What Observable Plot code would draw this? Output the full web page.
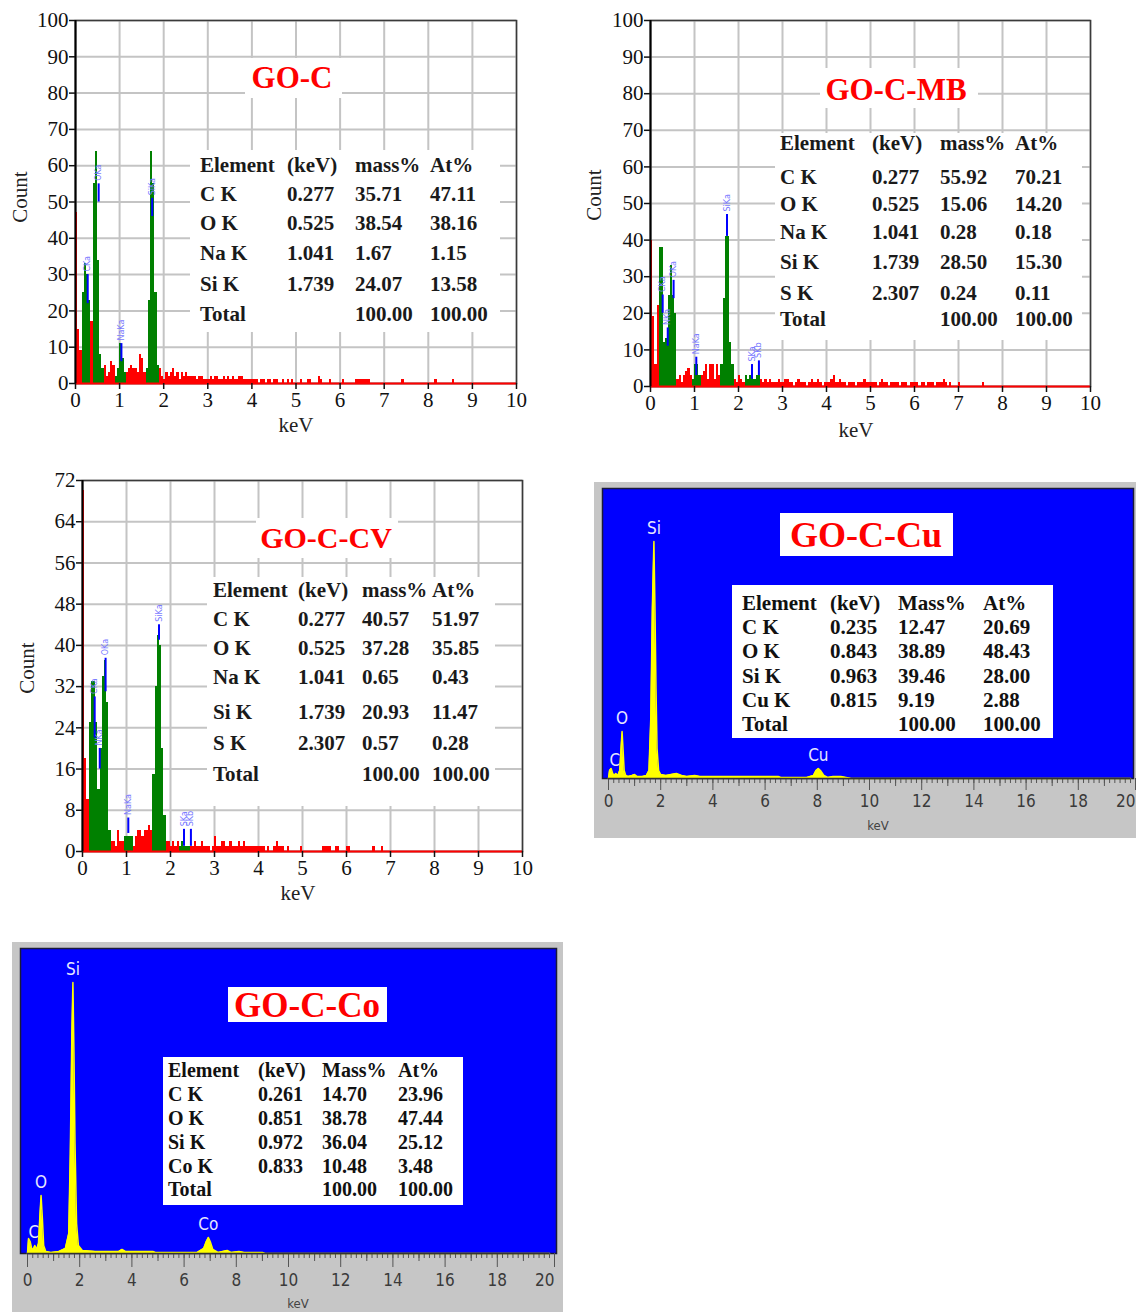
<!DOCTYPE html>
<html><head><meta charset="utf-8">
<script src="https://cdn.jsdelivr.net/npm/d3@7"></script>
<script src="https://cdn.jsdelivr.net/npm/@observablehq/plot@0.6"></script>
<style>
body{margin:0;background:#fff;}
#page{position:relative;width:1136px;height:1312px;overflow:hidden;background:#fff;}
#page svg{position:absolute;}
.t{position:absolute;white-space:nowrap;line-height:1;}
.box{position:absolute;background:#fff;}
</style></head>
<body><div id="page"></div>
<script>
// ---------- tick values ----------
const keVTicks = [0,1,2,3,4,5,6,7,8,9,10];
const countTicks100 = [0,10,20,30,40,50,60,70,80,90,100];
const countTicks72 = [0,8,16,24,32,40,48,56,64,72];
const wideMajor = [0,2,4,6,8,10,12,14,16,18];
const wideLast = [20];
const wideOdd = [1,3,5,7,9,11,13,15,17,19];

const BIN = 0.05; // keV per channel of the spectra below

// ---------- GO-C ----------
const goC_red = [
 47,15,9,0,0,0,0,17,0,0,
 0,0,0,5,2,3,6,5,0,0,
 0,0,0,3,4,5,4,4,3,8,
 7,3,0,0,0,0,0,0,4,2,
 1,3,2,3,4,2,3,1,3,2,
 3,2,2,2,2,1,2,2,1,1,
 1,2,1,2,2,1,1,2,1,2,
 1,2,1,1,2,2,1,1,1,1,
 1,1,1,0,1,1,0,1,1,0,
 1,1,0,0,1,0,1,0,1,0,
 0,0,1,0,0,1,1,0,0,0,
 2,1,0,0,0,1,0,0,0,0,
 0,1,0,0,0,0,0,1,1,1,
 1,1,1,1,0,0,0,0,0,0,
 0,0,0,0,0,0,0,0,1,0,
 0,0,0,0,0,0,0,0,0,0,
 0,0,0,1,0,0,0,0,0,0,
 0,1,0,0];
const goC_green = [
 {start:0.15, counts:[25,33,30,23]},
 {start:0.40, counts:[55,64,34,8,4]},
 {start:0.90, counts:[2,4,11,7,3]},
 {start:1.60, counts:[4,23,64,55,25,5]}];
const goC_markers = [
 {keV:0.277, lo:22, hi:30, label:"CKa"},
 {keV:0.525, lo:50, hi:55, label:"OKa"},
 {keV:1.041, lo:6, hi:11, label:"NaKa"},
 {keV:1.739, lo:46, hi:51, label:"SiKa"}];
const goC_header = ["Element","(keV)","mass%","At%"];
const goC_rows = [["C K","0.277","35.71","47.11"],["O K","0.525","38.54","38.16"],["Na K","1.041","1.67","1.15"],["Si K","1.739","24.07","13.58"],["Total","","100.00","100.00"]];

// ---------- GO-C-MB ----------
const goCMB_red = [
 40,19,6,22,0,0,0,0,0,0,
 0,0,2,3,1,3,4,5,3,0,
 0,0,0,3,4,6,2,6,6,2,
 6,3,0,0,0,0,0,0,2,1,
 3,2,1,0,0,0,0,0,0,0,
 2,1,2,1,2,1,1,1,2,1,
 1,2,2,1,1,0,1,2,1,1,
 1,0,1,2,1,1,2,1,0,1,
 1,1,2,3,1,1,2,1,1,0,
 1,1,1,0,1,1,1,2,1,1,
 1,1,1,0,1,2,1,1,0,1,
 1,1,1,0,1,1,1,0,1,1,
 1,1,0,1,1,0,1,1,1,0,
 1,1,1,2,1,0,1,0,0,0,
 1,0,0,0,0,0,0,0,0,0,
 0,1,0];
const goCMB_green = [
 {start:0.20, counts:[38,38,12,13,25,33,25,20]},
 {start:0.95, counts:[2,6,6,3]},
 {start:1.60, counts:[6,24,41,41,12,6]},
 {start:2.15, counts:[3,2,3,4,2,3,3]}];
const goCMB_markers = [
 {keV:0.277, lo:20, hi:25, label:"CKa"},
 {keV:0.392, lo:11, hi:16, label:"NKa"},
 {keV:0.525, lo:24, hi:29, label:"OKa"},
 {keV:1.041, lo:3, hi:8, label:"NaKa"},
 {keV:1.739, lo:41, hi:47, label:"SiKa"},
 {keV:2.307, lo:2, hi:6, label:"SKa"},
 {keV:2.464, lo:3, hi:7, label:"SKb"}];
const goCMB_header = ["Element","(keV)","mass%","At%"];
const goCMB_rows = [["C K","0.277","55.92","70.21"],["O K","0.525","15.06","14.20"],["Na K","1.041","0.28","0.18"],["Si K","1.739","28.50","15.30"],["S K","2.307","0.24","0.11"],["Total","","100.00","100.00"]];

// ---------- GO-C-CV ----------
const goCCV_red = [
 70,18,10,0,0,0,0,0,0,0,
 0,0,0,2,2,1,4,2,2,0,
 0,0,0,1,3,4,4,3,4,4,
 5,4,0,0,0,0,0,0,2,2,
 1,2,1,2,0,0,0,0,0,1,
 1,2,1,1,2,1,1,1,0,1,
 3,1,1,2,2,1,1,2,1,1,
 1,2,1,2,1,1,1,1,1,1,
 1,1,1,0,1,0,0,1,2,1,
 1,1,0,1,0,0,0,0,0,1,
 0,0,0,0,0,0,0,0,0,1,
 1,1,1,0,0,1,1,0,0,0,
 1,1,0,0,0,0,0,0,0,0,
 0,0,1,0,0,0,1];
const goCCV_green = [
 {start:0.15, counts:[25,33,33,25,12,20,34,37,29,4]},
 {start:0.95, counts:[3,3,3,3]},
 {start:1.60, counts:[15,32,42,40,20,7]},
 {start:2.20, counts:[1,2,1,1,1]}];
const goCCV_markers = [
 {keV:0.277, lo:22, hi:30, label:"CKa"},
 {keV:0.392, lo:16, hi:20, label:"NKa"},
 {keV:0.525, lo:31, hi:37.5, label:"OKa"},
 {keV:1.041, lo:3.5, hi:6.5, label:"NaKa"},
 {keV:1.739, lo:41, hi:44, label:"SiKa"},
 {keV:2.307, lo:1, hi:4.3, label:"SKa"},
 {keV:2.464, lo:1, hi:4.3, label:"SKb"}];
const goCCV_header = ["Element","(keV)","mass%","At%"];
const goCCV_rows = [["C K","0.277","40.57","51.97"],["O K","0.525","37.28","35.85"],["Na K","1.041","0.65","0.43"],["Si K","1.739","20.93","11.47"],["S K","2.307","0.57","0.28"],["Total","","100.00","100.00"]];

// ---------- GO-C-Cu (relative counts) ----------
const goCCu_spectrum = [[0,0],[0.04,8],[0.1,10],[0.16,5],[0.22,3],[0.28,5],[0.36,3],[0.43,8],[0.48,30],[0.52,47],[0.56,28],[0.6,8],[0.66,3],[0.75,2],[0.9,3],[1.0,4],[1.1,2],[1.3,2],[1.45,3],[1.55,8],[1.62,60],[1.68,170],[1.74,237],[1.78,170],[1.82,90],[1.86,30],[1.92,8],[2.0,4],[2.2,3],[2.4,4],[2.6,5],[2.8,3],[3.0,2],[3.3,3],[3.5,2],[4.5,2],[5.5,2],[6.5,2],[6.6,1],[7.6,1],[7.85,3],[7.95,8],[8.04,10],[8.12,8],[8.25,3],[8.4,1],[8.6,2],[8.9,2],[9.1,1],[9.3,0],[20,0]];
const goCCu_peaks = [{e:0.24,c:5,label:"C"},{e:0.52,c:47,label:"O"},{e:1.74,c:237,label:"Si"},{e:8.04,c:10,label:"Cu"}];
const goCCu_header = ["Element","(keV)","Mass%","At%"];
const goCCu_rows = [["C K","0.235","12.47","20.69"],["O K","0.843","38.89","48.43"],["Si K","0.963","39.46","28.00"],["Cu K","0.815","9.19","2.88"],["Total","","100.00","100.00"]];

// ---------- GO-C-Co (relative counts) ----------
const goCCo_spectrum = [[0,0],[0.04,15],[0.1,12],[0.16,5],[0.22,4],[0.28,8],[0.35,4],[0.42,10],[0.47,35],[0.52,58],[0.57,35],[0.62,8],[0.7,2],[0.9,1],[1.2,2],[1.45,5],[1.58,20],[1.64,100],[1.7,220],[1.74,271],[1.78,200],[1.82,110],[1.88,30],[1.95,8],[2.1,3],[2.6,2],[3.5,2],[3.62,4],[3.75,2],[4.8,2],[4.9,1],[6.5,1],[6.75,5],[6.85,12],[6.93,16],[7.0,12],[7.1,4],[7.3,1],[7.65,3],[7.8,1],[8.1,2],[8.3,1],[9.0,1],[9.1,0],[20,0]];
const goCCo_peaks = [{e:0.24,c:8,label:"C"},{e:0.52,c:58,label:"O"},{e:1.74,c:271,label:"Si"},{e:6.93,c:16,label:"Co"}];
const goCCo_header = ["Element","(keV)","Mass%","At%"];
const goCCo_rows = [["C K","0.261","14.70","23.96"],["O K","0.851","38.78","47.44"],["Si K","0.972","36.04","25.12"],["Co K","0.833","10.48","3.48"],["Total","","100.00","100.00"]];

// ---------- helpers ----------
const SERIF = '"Liberation Serif","Times New Roman",Times,serif';
const NARROW = '"Liberation Sans Narrow","Arial Narrow","DejaVu Sans Condensed",sans-serif';
const page = document.getElementById("page");

function put(svg, left, top){ svg.style.left = left+"px"; svg.style.top = top+"px"; page.appendChild(svg); }
function box(left, top, w, h, bg="#fff"){ const d=document.createElement("div"); d.className="box"; Object.assign(d.style,{left:left+"px",top:top+"px",width:w+"px",height:h+"px",background:bg}); page.appendChild(d); return d; }
function txt(s, x, y, o={}){
  const d=document.createElement("div"); d.className="t"; d.textContent=s;
  const ax = o.anchor==="middle" ? "-50%" : "0";
  Object.assign(d.style,{left:x+"px",top:y+"px",fontFamily:o.family||SERIF,fontSize:(o.size||20)+"px",fontWeight:o.weight||"normal",color:o.color||"#1a1a1a",transform:`translate(${ax},-50%)`, transformOrigin:"center"});
  if (o.rotate) d.style.transform = `translate(-50%,-50%) rotate(${o.rotate}deg)`;
  page.appendChild(d); return d;
}
function table(header, rows, cols, ys, o){
  header.forEach((h,i)=>txt(h, cols[i], ys[0], o));
  rows.forEach((r,j)=>r.forEach((v,i)=>{ if(v!=="") txt(v, cols[i], ys[j+1], o); }));
}
function redBars(arr){ return arr.map((c,i)=>({x1:i*BIN, x2:(i+1)*BIN, c})).filter(d=>d.c>0); }
function greenBars(peaks){ return peaks.flatMap(p=>p.counts.map((c,j)=>({x1:p.start+j*BIN, x2:p.start+(j+1)*BIN, c}))); }

function eds({width,height,ml,mr,mt,mb,yMax,yTicks,red,green,markers}){
  return Plot.plot({
    width, height, marginLeft:ml, marginRight:mr, marginTop:mt, marginBottom:mb,
    x:{domain:[0,10]}, y:{domain:[0,yMax]},
    style:{fontFamily:SERIF, fontSize:"21px", color:"#111", background:"transparent", overflow:"visible"},
    marks:[
      Plot.gridX(keVTicks, {stroke:"#c4c4c4", strokeWidth:2, strokeOpacity:1}),
      Plot.gridY(yTicks, {stroke:"#c4c4c4", strokeWidth:2, strokeOpacity:1}),
      Plot.frame({stroke:"#3a3a3a", strokeWidth:1.5}),
      Plot.rectY(redBars(red), {x1:"x1", x2:"x2", y:"c", fill:"#ff0000", shapeRendering:"crispEdges"}),
      Plot.rectY(greenBars(green), {x1:"x1", x2:"x2", y:"c", fill:"#008000", shapeRendering:"crispEdges"}),
      Plot.ruleX(markers, {x:"keV", y1:"lo", y2:"hi", stroke:"#0000ff", strokeWidth:2}),
      Plot.text(markers, {x:"keV", y:"hi", text:"label", rotate:-90, textAnchor:"start", dy:-3, fill:"#7a7aff", fontSize:8, fontFamily:"DejaVu Sans, sans-serif"}),
      Plot.ruleY([0], {stroke:"#ff0000", strokeWidth:2}),
      Plot.ruleX([0], {stroke:"#000", strokeWidth:2}),
      Plot.axisX(keVTicks, {tickSize:6, tickPadding:3, tickFormat:d=>String(d), label:null, strokeWidth:1.5}),
      Plot.axisY(yTicks, {tickSize:6, tickPadding:1, tickFormat:d=>String(d), label:null, strokeWidth:1.5})
    ]
  });
}

function blueSpec({width,height,ml,mr,mt,mb,yMax,spectrum,peaks,insL,insR,tickLen,pad}){
  const data = spectrum.map(([e,c])=>({e,c}));
  const minor = d3.range(0, 20.001, 0.2).map(v=>+v.toFixed(1));
  return Plot.plot({
    width, height, marginLeft:ml, marginRight:mr, marginTop:mt, marginBottom:mb,
    x:{domain:[0,20]}, y:{domain:[0,yMax], axis:null},
    style:{fontFamily:NARROW, fontSize:"17px", color:"#444", background:"transparent", overflow:"visible"},
    marks:[
      Plot.frame({fill:"#0000ff", stroke:"#1a1a3a", strokeWidth:1.5, insetLeft:insL, insetRight:insR}),
      Plot.areaY(data, {x:"e", y:"c", fill:"#ffff00"}),
      Plot.lineY(data, {x:"e", y:"c", stroke:"#ffff00", strokeWidth:1.5}),
      Plot.text(peaks, {x:"e", y:"c", text:"label", dy:-13, fill:"#e6e6ff", fontSize:17, fontFamily:NARROW}),
      Plot.axisX(minor, {tickSize:5, tickFormat:()=>"", label:null, stroke:"#555"}),
      Plot.axisX(wideOdd, {tickSize:8, tickFormat:()=>"", label:null, stroke:"#555"}),
      Plot.axisX(wideMajor, {tickSize:tickLen, tickPadding:pad, tickFormat:d=>String(d), label:null, stroke:"#555", fill:"#3a3a3a"}),
      Plot.axisX(wideLast, {tickSize:tickLen, tickPadding:pad, tickFormat:d=>String(d), label:null, stroke:"#555", fill:"#3a3a3a", textAnchor:"end", dx:5}),
      Plot.ruleY([0], {stroke:"#333", strokeWidth:1.5})
    ]
  });
}

// ---------- Panel 1: GO-C ----------
put(eds({width:545,height:445,ml:75,mr:29,mt:20,mb:62,yMax:100,yTicks:countTicks100,red:goC_red,green:goC_green,markers:goC_markers}),0,0);
box(190,150,310,182); box(245,58,97,40);
txt("GO-C",292,77,{anchor:"middle",size:31,weight:"bold",color:"#ff0000"});
table(goC_header, goC_rows, [200,287,355,430], [165,194,223,253,284,314], {size:21,weight:"bold"});
txt("Count",20,197,{rotate:-90,size:21,color:"#222"});
txt("keV",296,425,{anchor:"middle",size:21,color:"#222"});

// ---------- Panel 2: GO-C-MB ----------
put(eds({width:545,height:445,ml:70,mr:35,mt:20,mb:59,yMax:100,yTicks:countTicks100,red:goCMB_red,green:goCMB_green,markers:goCMB_markers}),580,0);
box(775,133,307,207); box(820,68,158,40);
txt("GO-C-MB",896,89,{anchor:"middle",size:31,weight:"bold",color:"#ff0000"});
table(goCMB_header, goCMB_rows, [780,872,940,1015], [143,177,204,232,262,293,319], {size:21,weight:"bold"});
txt("Count",594,195,{rotate:-90,size:21,color:"#222"});
txt("keV",856,430,{anchor:"middle",size:21,color:"#222"});

// ---------- Panel 3: GO-C-CV ----------
put(eds({width:545,height:450,ml:82,mr:23,mt:20,mb:59,yMax:72,yTicks:countTicks72,red:goCCV_red,green:goCCV_green,markers:goCCV_markers}),0,460);
box(207,577,288,229); box(256,518,142,40);
txt("GO-C-CV",326,538,{anchor:"middle",size:30,weight:"bold",color:"#ff0000"});
table(goCCV_header, goCCV_rows, [213,298,362,432], [590,619,648,677,712,743,774], {size:21,weight:"bold"});
txt("Count",27,668,{rotate:-90,size:21,color:"#222"});
txt("keV",298,893,{anchor:"middle",size:21,color:"#222"});

// ---------- Panel 4: GO-C-Cu ----------
box(594,482,542,356,"#c6c6c6");
put(blueSpec({width:542,height:356,ml:14,mr:6,mt:6,mb:60,yMax:290,spectrum:goCCu_spectrum,peaks:goCCu_peaks,insL:-6,insR:-3,tickLen:12,pad:4}),594,482);
box(780,513,173,43); box(732,585,321,153);
txt("GO-C-Cu",866,535,{anchor:"middle",size:36,weight:"bold",color:"#ff0000"});
table(goCCu_header, goCCu_rows, [742,830,898,983], [603,627,651,676,700,724], {size:21,weight:"bold",color:"#111"});
txt("keV",878,825,{anchor:"middle",size:13,family:NARROW,color:"#444"});

// ---------- Panel 5: GO-C-Co ----------
box(12,942,551,370,"#c6c6c6");
put(blueSpec({width:551,height:370,ml:15,mr:14,mt:6,mb:59,yMax:305,spectrum:goCCo_spectrum,peaks:goCCo_peaks,insL:-7,insR:-7,tickLen:14,pad:6}),12,942);
box(228,987,159,35); box(163,1057,300,148);
txt("GO-C-Co",307,1005,{anchor:"middle",size:35,weight:"bold",color:"#ff0000"});
table(goCCo_header, goCCo_rows, [168,258,322,398], [1070,1094,1118,1142,1166,1189], {size:20,weight:"bold",color:"#111"});
txt("keV",298,1303,{anchor:"middle",size:13,family:NARROW,color:"#444"});
</script>
</body></html>
